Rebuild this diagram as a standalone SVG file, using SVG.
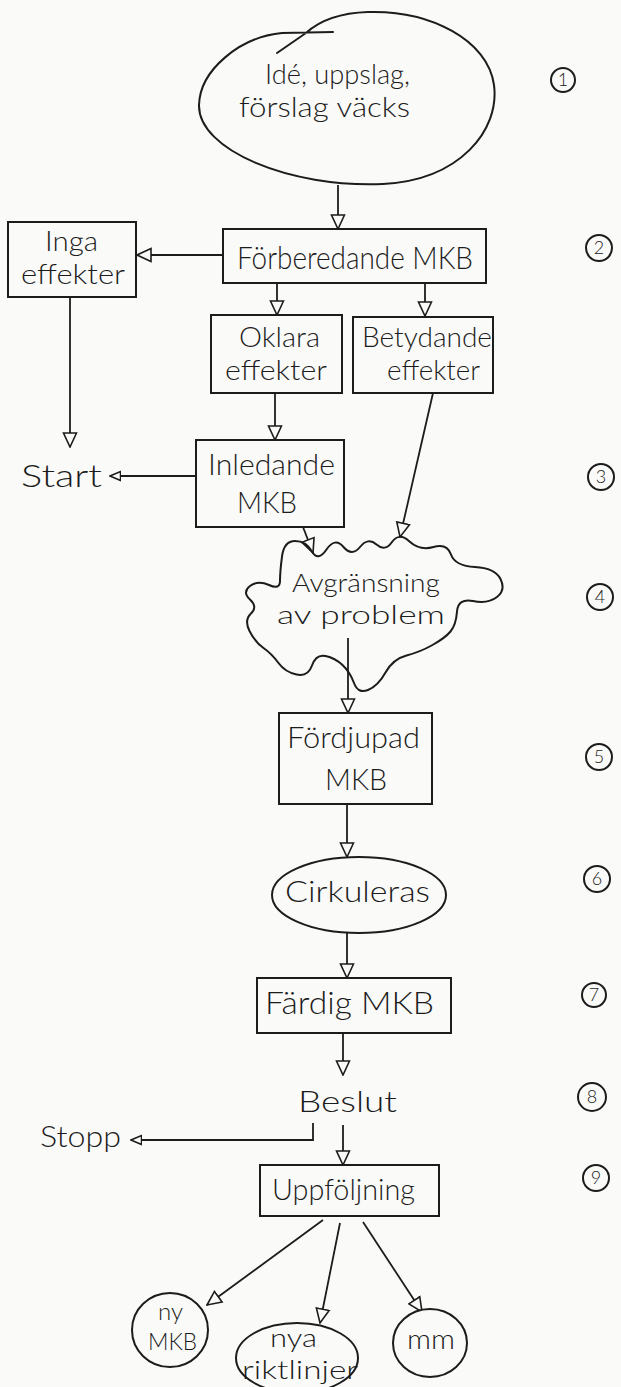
<svg xmlns="http://www.w3.org/2000/svg" width="621" height="1387" viewBox="0 0 621 1387">
<style>
.s{fill:none;stroke:#1c1c1c;stroke-width:2;stroke-linejoin:round;stroke-linecap:round}
.b{fill:#fafaf8;stroke:#1c1c1c;stroke-width:2}
.c{fill:none;stroke:#1c1c1c;stroke-width:1.8}
.t{font-family:Lato,"Liberation Sans",Arial,sans-serif;font-weight:300;font-size:30px;fill:#1c1c1c}
.t2{font-size:27px}
.d{font-family:Lato,"Liberation Sans",Arial,sans-serif;font-weight:300;font-size:18px;fill:#1c1c1c;text-anchor:middle}
</style>
<defs>
<marker id="ah" viewBox="0 0 16 16" refX="15" refY="8" markerWidth="16" markerHeight="16" markerUnits="userSpaceOnUse" orient="auto">
<path d="M1,1.5 L15,8 L1,14.5 Z" fill="#fafaf8" stroke="#1c1c1c" stroke-width="1.6"/>
</marker>
<marker id="as" viewBox="0 0 16 16" refX="15" refY="8" markerWidth="12" markerHeight="12" markerUnits="userSpaceOnUse" orient="auto">
<path d="M1,2 L15,8 L1,14 Z" fill="#fafaf8" stroke="#1c1c1c" stroke-width="2"/>
</marker>
</defs>
<rect width="621" height="1387" fill="#fafaf8"/>

<g id="connectors">
<path class="c" d="M338,185 L338,229" marker-end="url(#ah)"/>
<path class="c" d="M223,255 L137,255" marker-end="url(#ah)"/>
<path class="c" d="M277,283 L277,315" marker-end="url(#ah)"/>
<path class="c" d="M425,283 L425,316" marker-end="url(#ah)"/>
<path class="c" d="M70,297 L70,447" marker-end="url(#ah)"/>
<path class="c" d="M275,393 L275,440" marker-end="url(#ah)"/>
<path class="c" d="M196,476 L110,476" marker-end="url(#as)"/>
<path class="c" d="M433,393 L400,537" marker-end="url(#ah)"/>
<path class="c" d="M303,527 L313,553" marker-end="url(#ah)"/>
<path class="c" d="M348,638 L348,713" marker-end="url(#ah)"/>
<path class="c" d="M347,804 L347,857" marker-end="url(#ah)"/>
<path class="c" d="M347,933 L347,978" marker-end="url(#ah)"/>
<path class="c" d="M343,1033 L343,1075" marker-end="url(#ah)"/>
<path class="c" d="M313,1123 L313,1140 L131,1140" marker-end="url(#as)"/>
<path class="c" d="M343,1125 L343,1165" marker-end="url(#ah)"/>
<path class="c" d="M323,1220 L207,1305" marker-end="url(#ah)"/>
<path class="c" d="M340,1223 L320,1323" marker-end="url(#ah)"/>
<path class="c" d="M363,1222 L422,1312" marker-end="url(#ah)"/>
</g>

<g id="n1">
<path class="s" d="M333,32 L282,33 C240,37 200,70 199,105 C198,150 290,188 383,184 C460,180 500,130 494,85 C488,40 430,10 368,12 C338,13 318,22 306,33 L277,53"/>
<text class="t t2"><tspan x="265" y="84" textLength="145" lengthAdjust="spacingAndGlyphs">Idé, uppslag,</tspan><tspan x="239" y="117" textLength="171" lengthAdjust="spacingAndGlyphs">förslag väcks</tspan></text>
</g>
<g id="n2">
<rect class="b" x="223" y="229" width="263" height="54"/>
<text class="t" x="237" y="269" textLength="236" lengthAdjust="spacingAndGlyphs" style="font-size:32px">Förberedande MKB</text>
</g>
<g id="n3">
<rect class="b" x="8" y="222" width="128" height="75"/>
<text class="t t2"><tspan x="45" y="251" textLength="53" lengthAdjust="spacingAndGlyphs">Inga</tspan><tspan x="21" y="284" textLength="104" lengthAdjust="spacingAndGlyphs">effekter</tspan></text>
</g>
<g id="n4">
<rect class="b" x="211" y="315" width="131" height="78"/>
<text class="t t2"><tspan x="239" y="347" textLength="81" lengthAdjust="spacingAndGlyphs">Oklara</tspan><tspan x="225" y="380" textLength="102" lengthAdjust="spacingAndGlyphs">effekter</tspan></text>
</g>
<g id="n5">
<rect class="b" x="353" y="317" width="140" height="76"/>
<text class="t t2"><tspan x="362" y="347" textLength="130" lengthAdjust="spacingAndGlyphs">Betydande</tspan><tspan x="387" y="380" textLength="93" lengthAdjust="spacingAndGlyphs">effekter</tspan></text>
</g>
<g id="n6">
<text class="t" x="21" y="487" textLength="81" lengthAdjust="spacingAndGlyphs" style="font-size:32px">Start</text>
</g>
<g id="n7">
<rect class="b" x="196" y="440" width="148" height="87"/>
<text class="t"><tspan x="208" y="475" textLength="127" lengthAdjust="spacingAndGlyphs">Inledande</tspan><tspan x="237" y="513" textLength="60" lengthAdjust="spacingAndGlyphs">MKB</tspan></text>
</g>
<g id="n8">
<path class="s" d="M280,581 Q280,572 282,556.5 Q284,541 295,541 Q306,541 312,551.5 Q318,562 326.5,549.5 Q335,537 343.5,547 Q352,557 360,547 Q368,537 376.5,544.5 Q385,552 392,542 Q399,532 409.5,541.5 Q420,551 433.5,547 Q447,543 451,554.5 Q455,566 475,567 Q495,568 500.5,579 Q506,590 497,597 Q488,604 473,601 Q458,598 457,611.5 Q456,625 450.5,631.5 Q445,638 432.5,645 Q420,652 406.5,655.5 Q393,659 385.5,672.5 Q378,686 368,690 Q358,694 354,683 Q350,672 342.5,665 Q335,658 325.5,656 Q316,654 312,665.5 Q308,677 296.5,674.5 Q285,672 278.5,663 Q272,654 263.5,648 Q255,642 249.5,631 Q244,620 251,613.5 Q258,607 250,599.5 Q242,592 250,586 Q258,580 269,585 Q280,590 280,581 Z"/>
<text class="t" style="font-size:26px"><tspan x="292" y="592" textLength="148" lengthAdjust="spacingAndGlyphs">Avgränsning</tspan><tspan x="277" y="624" textLength="168" lengthAdjust="spacingAndGlyphs">av  problem</tspan></text>
</g>
<g id="n9">
<rect class="b" x="279" y="713" width="153" height="91"/>
<text class="t"><tspan x="287" y="748" textLength="133" lengthAdjust="spacingAndGlyphs">Fördjupad</tspan><tspan x="325" y="790" textLength="62" lengthAdjust="spacingAndGlyphs">MKB</tspan></text>
</g>
<g id="n10">
<ellipse class="b" cx="359" cy="895" rx="87" ry="38"/>
<text class="t" x="285" y="902" textLength="145" lengthAdjust="spacingAndGlyphs">Cirkuleras</text>
</g>
<g id="n11">
<rect class="b" x="257" y="978" width="194" height="55"/>
<text class="t" x="265" y="1014" textLength="169" lengthAdjust="spacingAndGlyphs" style="font-size:32px">Färdig  MKB</text>
</g>
<g id="n12">
<text class="t" x="298" y="1112" textLength="99" lengthAdjust="spacingAndGlyphs">Beslut</text>
</g>
<g id="n13">
<text class="t" x="40" y="1147" textLength="81" lengthAdjust="spacingAndGlyphs">Stopp</text>
</g>
<g id="n14">
<rect class="b" x="260" y="1165" width="179" height="51"/>
<text class="t" x="272" y="1200" textLength="143" lengthAdjust="spacingAndGlyphs">Uppföljning</text>
</g>
<g id="n15">
<ellipse class="b" cx="170" cy="1330" rx="38" ry="37"/>
<text class="t" style="font-size:24px"><tspan x="158" y="1320" textLength="25" lengthAdjust="spacingAndGlyphs">ny</tspan><tspan x="148" y="1350" textLength="49" lengthAdjust="spacingAndGlyphs">MKB</tspan></text>
</g>
<g id="n16">
<ellipse class="b" cx="297" cy="1358" rx="61" ry="35"/>
<text class="t" style="font-size:25px"><tspan x="270" y="1347" textLength="47" lengthAdjust="spacingAndGlyphs">nya</tspan><tspan x="242" y="1379" textLength="116" lengthAdjust="spacingAndGlyphs">riktlinjer</tspan></text>
</g>
<g id="n17">
<ellipse class="b" cx="430" cy="1343" rx="37" ry="34"/>
<text class="t" x="407" y="1349" textLength="48" lengthAdjust="spacingAndGlyphs" style="font-size:27px">mm</text>
</g>

<g id="numbers">
<circle class="s" cx="563" cy="80" r="12"/><text class="d" x="563" y="86">1</text>
<circle class="s" cx="599" cy="248" r="13"/><text class="d" x="599" y="254">2</text>
<circle class="s" cx="601" cy="477" r="13"/><text class="d" x="601" y="483">3</text>
<circle class="s" cx="600" cy="597" r="13"/><text class="d" x="600" y="603">4</text>
<circle class="s" cx="599" cy="757" r="13"/><text class="d" x="599" y="763">5</text>
<circle class="s" cx="597" cy="879" r="13"/><text class="d" x="597" y="885">6</text>
<circle class="s" cx="594" cy="995" r="12"/><text class="d" x="594" y="1001">7</text>
<circle class="s" cx="592" cy="1097" r="14"/><text class="d" x="592" y="1103">8</text>
<circle class="s" cx="596" cy="1178" r="13"/><text class="d" x="596" y="1184">9</text>
</g>
</svg>
